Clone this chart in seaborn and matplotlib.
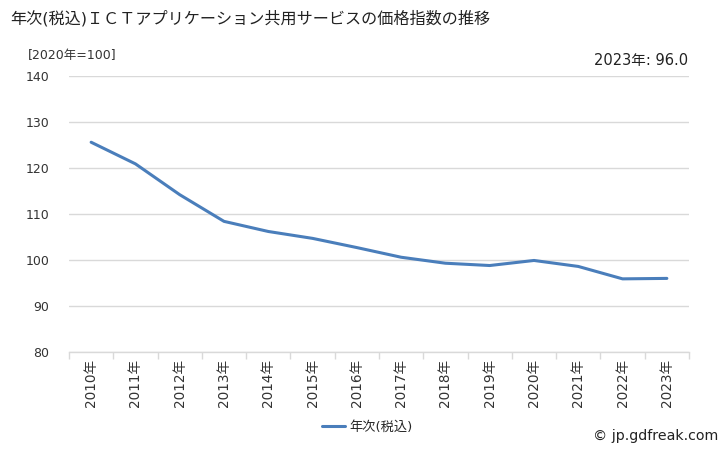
import matplotlib
matplotlib.use("Agg")
import matplotlib.pyplot as plt
import seaborn as sns
import pandas as pd
import numpy as np
from matplotlib.lines import Line2D

years = ["2010年", "2011年", "2012年", "2013年", "2014年", "2015年", "2016年",
         "2017年", "2018年", "2019年", "2020年", "2021年", "2022年", "2023年"]
values = [125.6, 120.9, 114.2, 108.4, 106.2, 104.7, 102.7, 100.6, 99.3, 98.8, 99.9, 98.6, 95.9, 96.0]
series_name = "年次(税込)"
title = "年次(税込)ＩＣＴアプリケーション共用サービスの価格指数の推移"
unit_label = "[2020年=100]"
latest_label = "2023年: 96.0"
credit = "© jp.gdfreak.com"
yticks = [80, 90, 100, 110, 120, 130, 140]

sns.set_theme(style="white")
plt.rcParams['font.family'] = ['DejaVu Sans', 'Noto Sans CJK JP']

df = pd.DataFrame({"pos": np.arange(len(years)), "value": values, "series": series_name})

fig = plt.figure(figsize=(7.28, 4.5), dpi=100)
ax = fig.add_axes([69/728, 1-352/450, (689-69)/728, (352-76)/450])

sns.lineplot(data=df, x="pos", y="value", ax=ax, color="#4a7ebb", linewidth=2.2,
             legend=False)

ax.set_xlim(-0.5, len(years) - 0.5)
ax.set_ylim(80, 140)
ax.set_yticks(yticks)
ax.set_yticklabels([str(t) for t in yticks], fontsize=9, color="#333333")
ax.yaxis.grid(True, color="#d9d9d9", linewidth=1)
ax.tick_params(axis="y", length=0, pad=14)

ax.set_xticks(np.arange(len(years)))
ax.set_xticklabels(years, rotation=90, fontsize=9.8, color="#333333")
ax.set_xticks(np.arange(len(years) + 1) - 0.5, minor=True)
ax.tick_params(axis="x", which="major", length=0, pad=5)
ax.tick_params(axis="x", which="minor", length=5, color="#d9d9d9", width=1, bottom=True)
ax.set_xlabel("")
ax.set_ylabel("")
for s in ["top", "right", "left"]:
    ax.spines[s].set_visible(False)
ax.spines["bottom"].set_color("#d9d9d9")
ax.spines["bottom"].set_linewidth(1)

fig.text(10/728, 1-18/450, title, fontsize=11.6, va="center", ha="left", color="#222222")
fig.text(28/728, 1-55/450, unit_label, fontsize=9, va="center", ha="left", color="#333333")
fig.text(688/728, 1-60/450, latest_label, fontsize=10.5, va="center", ha="right", color="#222222")
fig.text(718/728, 1-436/450, credit, fontsize=10.2, va="center", ha="right", color="#222222")

handle = Line2D([0], [0], color="#4a7ebb", linewidth=2.2)
fig.legend([handle], [series_name], loc="center", bbox_to_anchor=(367/728, 1-427/450),
           frameon=False, fontsize=9.5, handlelength=1.8, handletextpad=0.3)

fig.savefig("out.png", dpi=100)
